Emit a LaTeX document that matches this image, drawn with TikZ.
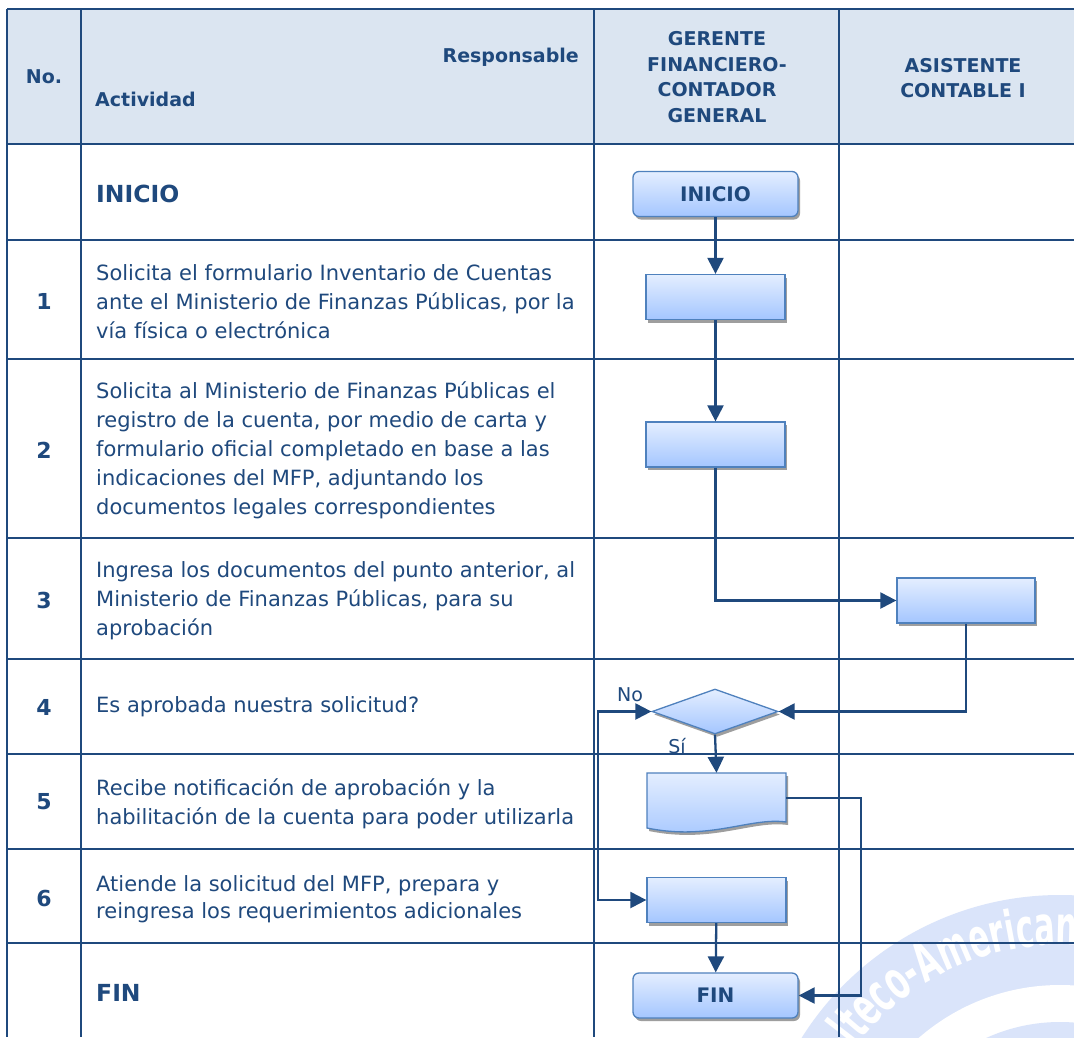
\documentclass[tikz,border=0pt]{standalone}
\usepackage{fontspec}
\setmainfont{DejaVu Sans}
\usetikzlibrary{arrows.meta,shapes.geometric,shadows}
\definecolor{navy}{RGB}{31,73,125}
\definecolor{hdr}{RGB}{219,229,241}
\definecolor{shtop}{RGB}{228,238,255}
\definecolor{shbot}{RGB}{164,198,255}
\definecolor{shedge}{RGB}{79,129,189}
\definecolor{wmark}{RGB}{218,228,250}
\tikzset{
  gridline/.style={navy, line width=2pt},
  proc/.style={draw=shedge, line width=1.3pt, top color=shtop, bottom color=shbot,
    minimum width=139pt, minimum height=45pt, inner sep=0pt,
    drop shadow={shadow xshift=2pt, shadow yshift=-3pt, fill=black!38, opacity=1}},
  term/.style={proc, rounded corners=6pt, minimum width=165pt, text=navy,
    font=\fontsize{20}{20}\selectfont\bfseries},
  decision/.style={proc, diamond, minimum width=126pt, minimum height=45pt},
  conn/.style={navy, line width=2.3pt, -{Triangle[length=16pt,width=16pt]}},
  both/.style={navy, line width=2.3pt, {Triangle[length=16pt,width=16pt]}-{Triangle[length=16pt,width=16pt]}},
  acttext/.style={anchor=west, align=left, text=navy, inner sep=0pt,
    font=\fontsize{21}{29}\selectfont},
  numtext/.style={text=navy, inner sep=0pt, font=\fontsize{22}{22}\selectfont\bfseries},
  rowlabel/.style={anchor=west, text=navy, inner sep=0pt, font=\fontsize{23.5}{23.5}\selectfont\bfseries},
  hdrtext/.style={text=navy, inner sep=0pt, align=center, font=\fontsize{19}{25.5}\selectfont\bfseries},
  smalllabel/.style={text=navy, inner sep=0pt, font=\fontsize{19}{19}\selectfont}
}
\begin{document}
\begin{tikzpicture}[x=1pt,y=-1pt]
\path[use as bounding box, clip] (0,0) rectangle (1074,1037);
\fill[white] (0,0) rectangle (1074,1037);

% watermark
\begin{scope}[y=1pt, shift={(1060pt,-1200pt)}]
  \fill[wmark] (0,0) circle[radius=305];
  \fill[white] (0,0) circle[radius=215];
  \fill[wmark] (0,0) circle[radius=178];
  \foreach \ch/\ang [count=\i] in {l/142.27, t/139.5, e/135.6, c/131.32, o/127.0, -/123.29, A/119.28, m/113.16, e/107.36, r/103.42, i/100.6, c/97.45, a/93.17, n/88.5}
    \node[anchor=base, rotate=\ang-90, inner sep=0pt, text=white] (wm\i) at (\ang:255)
      {\scalebox{0.56}[1]{\fontsize{54}{54}\selectfont\bfseries \ch}};
\end{scope}

% header
\fill[hdr] (7,9) rectangle (1074,144);
\foreach \yy in {9,144,240,359,538,659,754,849,943}
  \draw[gridline] (7,\yy) -- (1074,\yy);
\foreach \xx in {7,81,594,839}
  \draw[gridline] (\xx,9) -- (\xx,1037);

\node[hdrtext] (hno) at (44,77) {No.};
\node[hdrtext, anchor=east] (hresp) at (579,57) {Responsable};
\node[hdrtext, anchor=west] (hact) at (95,99) {Actividad};
\node[hdrtext] (hger) at (717,77) {GERENTE\\FINANCIERO-\\CONTADOR\\GENERAL};
\node[hdrtext] (hasi) at (963,78) {ASISTENTE\\CONTABLE I};

% activity column
\node[rowlabel] (lini) at (96,194) {INICIO};
\node[numtext] (n1) at (44,301) {1};
\node[acttext] (a1) at (96,301.5) {Solicita el formulario Inventario de Cuentas\\ante el Ministerio de Finanzas Públicas, por la\\vía física o electrónica};
\node[numtext] (n2) at (44,450) {2};
\node[acttext] (a2) at (96,450.5) {Solicita al Ministerio de Finanzas Públicas el\\registro de la cuenta, por medio de carta y\\formulario oficial completado en base a las\\indicaciones del MFP, adjuntando los\\documentos legales correspondientes};
\node[numtext] (n3) at (44,600) {3};
\node[acttext] (a3) at (96,600.5) {Ingresa los documentos del punto anterior, al\\Ministerio de Finanzas Públicas, para su\\aprobación};
\node[numtext] (n4) at (44,707) {4};
\node[acttext] (a4) at (96,707) {Es aprobada nuestra solicitud?};
\node[numtext] (n5) at (44,802) {5};
\node[acttext] (a5) at (96,803.5) {Recibe notificación de aprobación y la\\habilitación de la cuenta para poder utilizarla};
\node[numtext] (n6) at (44,898) {6};
\node[acttext, font=\fontsize{21}{27}\selectfont] (a6) at (96,899) {Atiende la solicitud del MFP, prepara y\\reingresa los requerimientos adicionales};
\node[rowlabel] (lfin) at (96,993) {FIN};

% flowchart shapes
\node[term] (ini) at (715.5,194) {INICIO};
\node[proc] (b1) at (715.5,297) {};
\node[proc] (b2) at (715.5,444.5) {};
\node[proc, minimum width=138pt] (b3) at (966,600.5) {};
\node[decision] (dia) at (715,711.5) {};
\node[inner sep=0pt, minimum width=139pt, minimum height=50pt] (b5) at (716.5,798) {};
\path[draw=shedge, line width=1.3pt, top color=shtop, bottom color=shbot,
      drop shadow={shadow xshift=2pt, shadow yshift=-3pt, fill=black!38, opacity=1}]
  (647,773) -- (786,773) -- (786,822) .. controls (750,817) and (710,841) .. (647,828) -- cycle;
\node[proc] (b6) at (716.5,900) {};
\node[term] (fin) at (715.5,995.5) {FIN};

% connectors
\coordinate (cr) at (861,798);
\coordinate (cl) at (598,711.5);
\draw[conn] (ini) -- (b1);
\draw[conn] (b1) -- (b2);
\draw[conn] (b2.south) |- (b3.west);
\draw[conn] (b3.south) |- (dia.east);
\draw[conn] (dia.south) -- (b5.north);
\draw[conn] (b5.east) -- (cr) |- (fin.east);
\draw[both] (dia.west) -- (cl) |- (b6.west);
\draw[conn] (b6) -- (fin);

\node[smalllabel] (lno) at (630,695) {No};
\node[smalllabel] (lsi) at (677,746) {Sí};
\end{tikzpicture}
\end{document}
